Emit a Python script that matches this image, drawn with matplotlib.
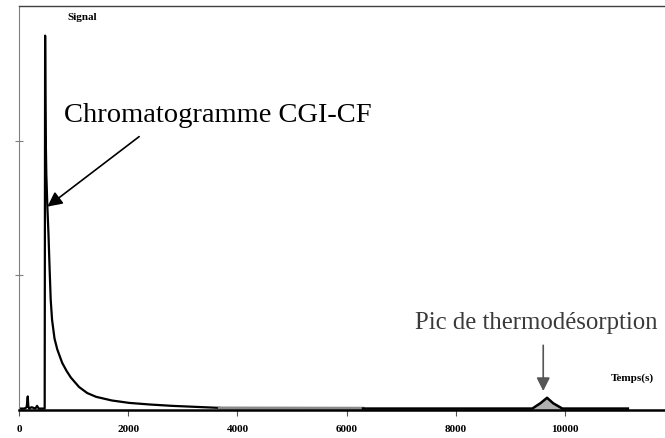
import numpy as np
import matplotlib.pyplot as plt

# chromatogram (time in s, signal in arbitrary units)
time_main = [0, 100, 140, 160, 170, 185, 230, 300, 330, 360, 470, 478, 484, 490, 500,
             520, 540, 560, 580, 605, 650, 700, 790, 870, 950, 1100, 1250, 1413, 1700,
             2018, 2400, 2807, 3670]
signal_main = [0.01, 0.01, 0.02, 0.1, 0.03, 0.01, 0.02, 0.01, 0.03, 0.01, 0.01, 2.78,
               2.3, 2.0, 1.75, 1.5, 1.3, 1.05, 0.82, 0.67, 0.53, 0.45, 0.35, 0.29,
               0.24, 0.17, 0.125, 0.097, 0.07, 0.052, 0.04, 0.03, 0.015]
time_grey = [3670, 6300]
signal_grey = [0.014, 0.012]
time_tail = [6300, 9400, 9550, 9670, 9780, 9950, 11150]
signal_tail = [0.01, 0.01, 0.05, 0.09, 0.05, 0.01, 0.01]

xticks = [0, 2000, 4000, 6000, 8000, 10000]
yticks = [1, 2]

serif = ['Liberation Serif', 'DejaVu Serif']

fig = plt.figure(figsize=(6.65, 4.39), dpi=100)
ax = fig.add_axes([0.0286, 0.064, 0.9714, 0.92])

ax.plot(time_main, signal_main, color='black', lw=1.6)
ax.plot(time_grey, signal_grey, color='#8a8a8a', lw=2.2)
ax.plot(time_tail, signal_tail, color='black', lw=1.8)
ax.fill_between(time_tail[1:6], signal_tail[1:6], 0, color='#b0b0b0')

ax.set_xlim(0, 11830)
ax.set_ylim(0, 3.0)

ax.spines['right'].set_visible(False)
ax.spines['left'].set_color('#808080')
ax.spines['left'].set_linewidth(0.8)
ax.spines['bottom'].set_linewidth(1.8)
ax.spines['top'].set_color('#404040')
ax.spines['top'].set_linewidth(1.0)

ax.set_xticks(xticks)
ax.set_xticklabels([str(t) for t in xticks], family=serif, fontweight='bold', fontsize=8)
ax.tick_params(axis='x', direction='out', length=4, width=0.8, pad=6, color='#555555')
ax.set_yticks(yticks)
ax.set_yticklabels([])
ax.tick_params(axis='y', direction='inout', length=6, width=0.8, color='#808080')

ax.text(0.0975, 0.985, 'Signal', transform=ax.transAxes, family=serif,
        fontweight='bold', fontsize=8, ha='center', va='top')
ax.text(0.983, 0.07, 'Temps(s)', transform=ax.transAxes, family=serif,
        fontweight='bold', fontsize=8, ha='right', va='bottom')

ax.text(830, 2.1, 'Chromatogramme CGI-CF', family=serif, fontsize=20.5,
        ha='left', va='bottom')
ax.annotate('', xy=(520, 1.51), xytext=(2200, 2.03),
            arrowprops=dict(arrowstyle='-|>', color='black', lw=1.2,
                            mutation_scale=22, shrinkA=0, shrinkB=0))
ax.text(9480, 0.57, 'Pic de thermodésorption', family=serif, fontsize=17.8,
        color='#3a3a3a', ha='center', va='bottom')
ax.annotate('', xy=(9600, 0.14), xytext=(9600, 0.48),
            arrowprops=dict(arrowstyle='-|>', color='#555555', lw=1.2,
                            mutation_scale=20, shrinkA=0, shrinkB=0))

fig.savefig('out.png', dpi=100)
